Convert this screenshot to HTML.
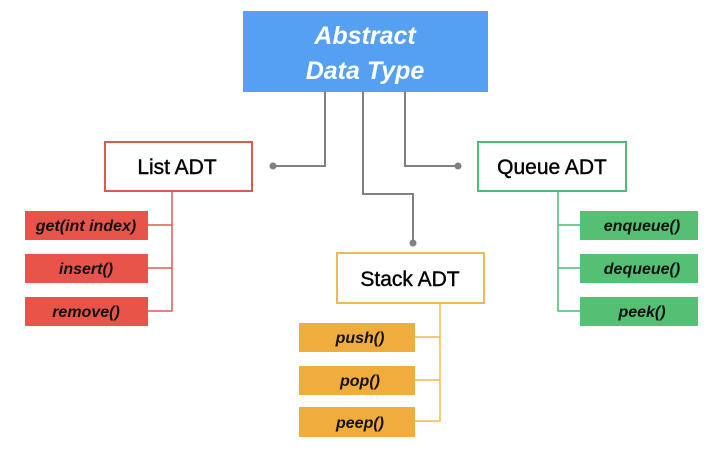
<!DOCTYPE html>
<html><head><style>
html,body{margin:0;padding:0;background:#fff;width:719px;height:454px;overflow:hidden}
text{font-family:"Liberation Sans",sans-serif}
</style></head><body>
<svg width="719" height="454" viewBox="0 0 719 454" xmlns="http://www.w3.org/2000/svg">
<rect x="243" y="11" width="245" height="81" fill="#55a0f3"/>
<text x="365" y="44" font-size="25" font-weight="bold" font-style="italic" fill="#fff" text-anchor="middle">Abstract</text>
<text x="365" y="79" font-size="25" font-weight="bold" font-style="italic" fill="#fff" text-anchor="middle">Data Type</text>
<g stroke="#808080" stroke-width="2" fill="none">
<polyline points="325,92 325,166 274,166"/>
<polyline points="363,92 363,194 413,194 413,242"/>
<polyline points="405,92 405,166 457,166"/>
</g>
<g fill="#808080"><circle cx="273" cy="166" r="3.5"/><circle cx="413" cy="243" r="3.5"/><circle cx="458" cy="166" r="3.5"/></g>

<rect x="105" y="142" width="147" height="49" fill="#fff" stroke="#de5a50" stroke-width="2"/>
<text x="177" y="174" font-size="21" text-anchor="middle" fill="#000" stroke="#000" stroke-width="0.4">List ADT</text>
<polyline points="172,191 172,311 147,311" fill="none" stroke="#de5a50" stroke-width="1.5"/>
<g stroke="#de5a50" stroke-width="1.5"><line x1="147" y1="225" x2="172" y2="225"/><line x1="147" y1="268" x2="172" y2="268"/></g>
<g fill="#e8544a"><rect x="25" y="211" width="123" height="29"/><rect x="25" y="254" width="123" height="29"/><rect x="25" y="297" width="123" height="29"/></g>
<g font-size="16" font-style="italic" font-weight="bold" fill="#111" text-anchor="middle">
<text x="86" y="231">get(int index)</text><text x="86" y="274">insert()</text><text x="86" y="317">remove()</text></g>

<rect x="478" y="142" width="148" height="49" fill="#fff" stroke="#4fba79" stroke-width="2"/>
<text x="552" y="174" font-size="21" text-anchor="middle" fill="#000" stroke="#000" stroke-width="0.4">Queue ADT</text>
<g stroke="#4fba79" stroke-width="1.5" fill="none"><polyline points="558,191 558,311 580,311"/><line x1="558" y1="225" x2="580" y2="225"/><line x1="558" y1="268" x2="580" y2="268"/></g>
<g fill="#55bf73"><rect x="580" y="211" width="118" height="29"/><rect x="580" y="254" width="118" height="29"/><rect x="580" y="297" width="118" height="29"/></g>
<g font-size="16" font-style="italic" font-weight="bold" fill="#111" text-anchor="middle">
<text x="642" y="231">enqueue()</text><text x="642" y="274">dequeue()</text><text x="642" y="317">peek()</text></g>

<rect x="337" y="253" width="147" height="50" fill="#fff" stroke="#f0b94a" stroke-width="2"/>
<text x="410" y="286" font-size="21" text-anchor="middle" fill="#000" stroke="#000" stroke-width="0.4">Stack ADT</text>
<g stroke="#f0b94a" stroke-width="1.5" fill="none"><polyline points="440,303 440,421 415,421"/><line x1="415" y1="337" x2="440" y2="337"/><line x1="415" y1="380" x2="440" y2="380"/></g>
<g fill="#f1ad3c"><rect x="299" y="323" width="116" height="29"/><rect x="299" y="366" width="116" height="29"/><rect x="299" y="407" width="116" height="30"/></g>
<g font-size="16" font-style="italic" font-weight="bold" fill="#111" text-anchor="middle">
<text x="360" y="343">push()</text><text x="360" y="386">pop()</text><text x="360" y="428">peep()</text></g>
</svg>
</body></html>
